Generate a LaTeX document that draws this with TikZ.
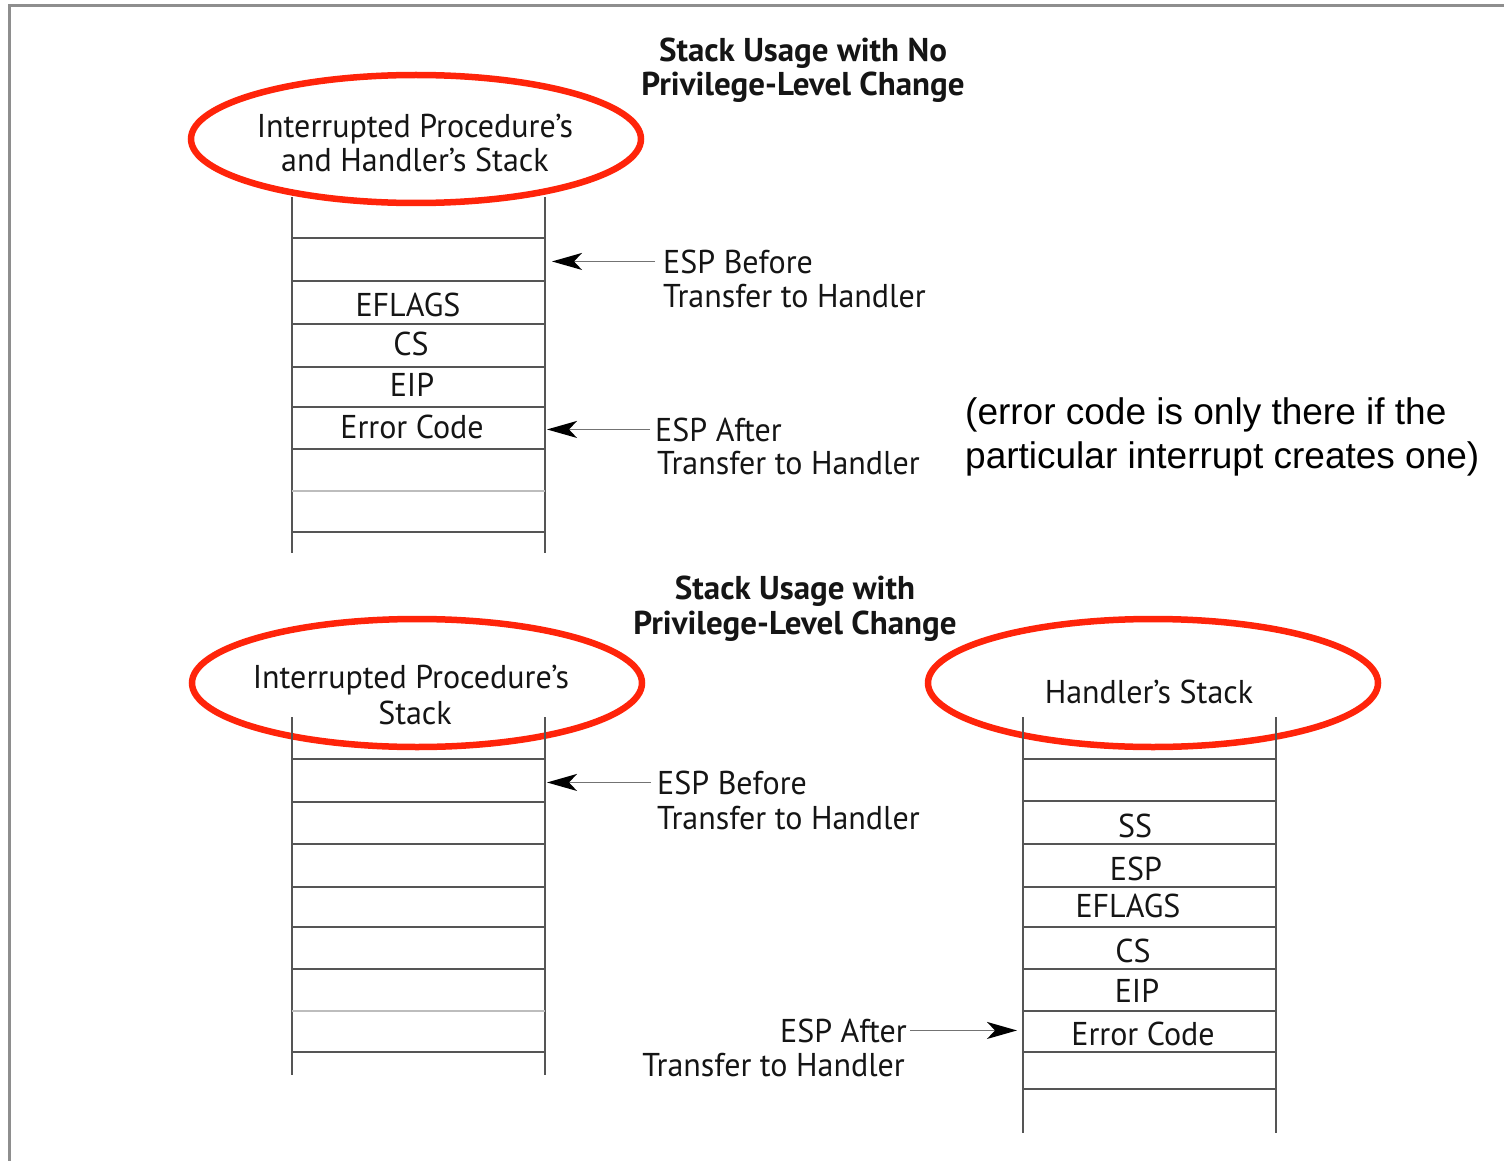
\documentclass[tikz,border=0pt]{standalone}
\usepackage{fontspec}
\setmainfont{Liberation Sans}
\newfontfamily\clearfont[FakeStretch=0.97]{PT Sans}
\newfontfamily\clearbold{PT Sans}
\usetikzlibrary{arrows.meta,shapes.geometric}

\definecolor{ringred}{HTML}{FF240A}
\definecolor{rulegray}{HTML}{555555}
\definecolor{faintgray}{HTML}{BDBDBD}
\definecolor{framegray}{HTML}{8E8E8E}
\definecolor{inkdark}{HTML}{151515}

\tikzset{
  lbl/.style={font=\clearfont\fontsize{33}{36}\selectfont, text=inkdark, inner sep=0pt, anchor=base},
  ttl/.style={lbl, font=\clearbold\bfseries\fontsize{33}{36}\selectfont},
  note/.style={font=\fontsize{37}{44}\selectfont, text=black, inner sep=0pt, anchor=base west},
  ring/.style={ellipse, draw=ringred, line width=6.5pt, inner sep=0pt,
               minimum width=450pt, minimum height=128pt},
  wall/.style={draw=rulegray, line width=2.2pt},
  rung/.style={draw=rulegray, line width=2.2pt},
  faintrung/.style={draw=faintgray, line width=2.5pt},
  ptr/.style={draw=black!55, line width=1.5pt,
              -{Stealth[length=30pt,width=17pt,inset=8pt,color=black]}},
}

\begin{document}
\begin{tikzpicture}[x=1pt,y=-1pt]
\useasboundingbox (0,0) rectangle (1504,1161);

% page frame
\draw[framegray, line width=3pt] (9,1161) -- (9,6) -- (1504,6);

% ---------- stack usage without privilege-level change ----------
\node[ttl] (titleA1) at (803,62) {Stack Usage with No};
\node[ttl] (titleA2) at (803,96) {Privilege-Level Change};

\node[ring] (ringA) at (416,139) {};
\node[lbl] (ringA1) at (415,138) {Interrupted Procedure’s};
\node[lbl] (ringA2) at (415,172) {and Handler’s Stack};

\draw[wall] (292,197) -- (292,553);
\draw[wall] (545,197) -- (545,553);
\foreach \y in {238,281,324,367,407,449,532}
  \draw[rung] (292,\y) -- (545,\y);
\draw[faintrung] (292,491) -- (545,491);

\node[lbl] (a-eflags) at (408,316) {EFLAGS};
\node[lbl] (a-cs)     at (411,355) {CS};
\node[lbl] (a-eip)    at (412,396) {EIP};
\node[lbl] (a-err)    at (412,438) {Error Code};

\node[lbl, anchor=base west] (espBeforeA)  at (663,273) {ESP Before};
\node[lbl, anchor=base west] (espBeforeA2) at (663,307) {Transfer to Handler};
\node[lbl, anchor=base west] (espAfterA)   at (655,441) {ESP After};
\node[lbl, anchor=base west] (espAfterA2)  at (657,474) {Transfer to Handler};

\coordinate (tipBeforeA) at (552,259);
\coordinate (tipAfterA)  at (547,428);
\draw[ptr] ([xshift=-8pt]espBeforeA.west) -- (espBeforeA.west -| tipBeforeA);
\draw[ptr] ([xshift=-5pt]espAfterA.west) -- (espAfterA.west -| tipAfterA);

\node[note] (noteA1) at (965,424) {(error code is only there if the};
\node[note] (noteA2) at (965,468) {particular interrupt creates one)};

% ---------- stack usage with privilege-level change ----------
\node[ttl] (titleB1) at (795,599) {Stack Usage with};
\node[ttl] (titleB2) at (795,634) {Privilege-Level Change};

\node[ring] (ringB) at (417,683) {};
\node[lbl] (ringB1) at (411,688) {Interrupted Procedure’s};
\node[lbl] (ringB2) at (415,724) {Stack};

\draw[wall] (292,717) -- (292,1075);
\draw[wall] (545,717) -- (545,1075);
\foreach \y in {759,802,844,887,927,969,1052}
  \draw[rung] (292,\y) -- (545,\y);
\draw[faintrung] (292,1011) -- (545,1011);

\node[lbl, anchor=base west] (espBeforeB)  at (657,794) {ESP Before};
\node[lbl, anchor=base west] (espBeforeB2) at (657,829) {Transfer to Handler};
\coordinate (tipBeforeB) at (547,780);
\draw[ptr] ([xshift=-6pt]espBeforeB.west) -- (espBeforeB.west -| tipBeforeB);

\node[ring] (ringC) at (1153,683) {};
\node[lbl] (ringC1) at (1149,703) {Handler’s Stack};

\draw[wall] (1023,717) -- (1023,1133);
\draw[wall] (1276,717) -- (1276,1133);
\foreach \y in {759,801,844,887,927,969,1011,1052,1089}
  \draw[rung] (1023,\y) -- (1276,\y);

\node[lbl] (c-ss)     at (1135,837)  {SS};
\node[lbl] (c-esp)    at (1136,880)  {ESP};
\node[lbl] (c-eflags) at (1128,917)  {EFLAGS};
\node[lbl] (c-cs)     at (1133,962)  {CS};
\node[lbl] (c-eip)    at (1137,1002) {EIP};
\node[lbl] (c-err)    at (1143,1045) {Error Code};

\node[lbl, anchor=base east] (espAfterB)  at (907,1042) {ESP After};
\node[lbl, anchor=base east] (espAfterB2) at (905,1076) {Transfer to Handler};
\coordinate (tipAfterB) at (1017,1032);
\draw[ptr] ([xshift=3pt]espAfterB.east) -- (espAfterB.east -| tipAfterB);
\end{tikzpicture}
\end{document}
